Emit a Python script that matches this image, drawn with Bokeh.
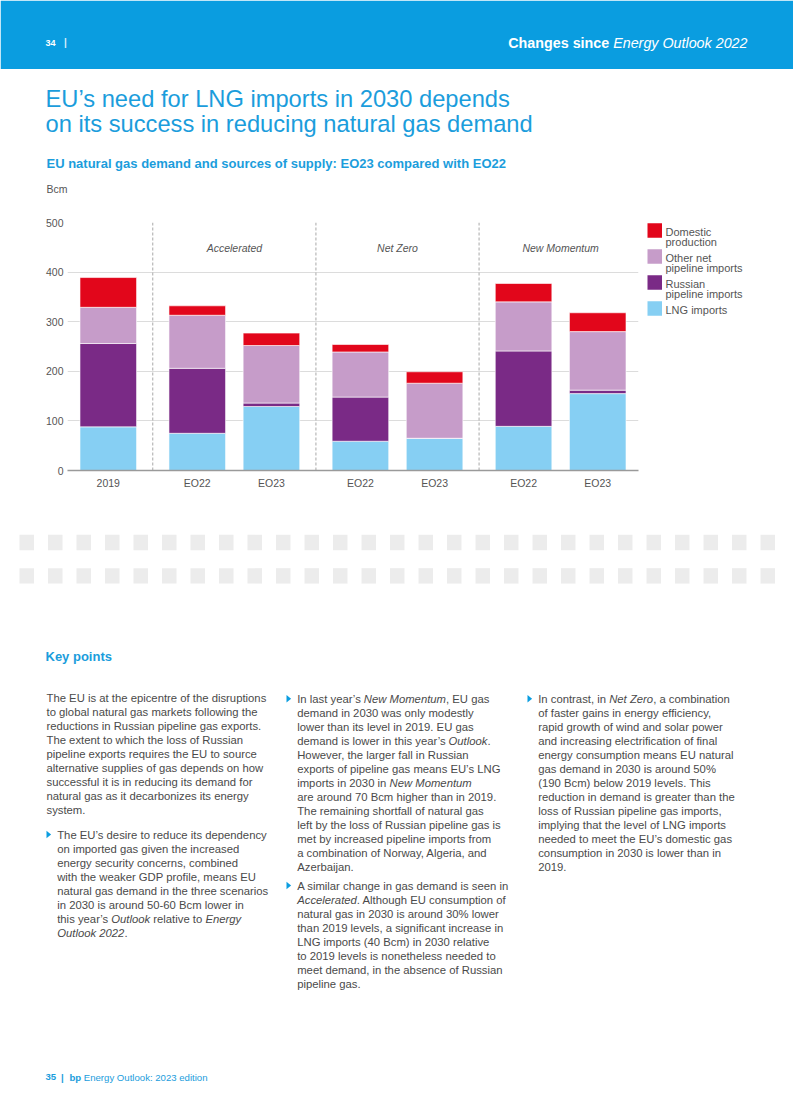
import math
from bokeh.plotting import figure
from bokeh.models import FactorRange, Range1d, FixedTicker, ColumnDataSource
from bokeh.layouts import column, row
from bokeh.core.properties import value
from bokeh.embed import file_html
from bokeh.resources import INLINE

# ---------------- data ----------------
scenarios = ["2019", "Accelerated", "Accelerated", "Net Zero", "Net Zero", "New Momentum", "New Momentum"]
cases = ["2019", "EO22", "EO23", "EO22", "EO23", "EO22", "EO23"]
lng_imports = [88, 75, 129, 59, 65, 89, 155]
russian_pipeline = [168, 131, 7, 89, 0, 152, 7]
other_pipeline = [73, 107, 116, 91, 111, 99, 118]
domestic_production = [60, 19, 25, 15, 23, 37, 38]
series_keys = ["lng", "russian", "other", "domestic"]
series_colors = ["#86cff3", "#7a2a86", "#c69cc9", "#e2061b"]
legend_labels = [["Domestic", "production"], ["Other net", "pipeline imports"],
                 ["Russian", "pipeline imports"], ["LNG imports"]]
legend_colors = ["#e2061b", "#c69cc9", "#7a2a86", "#86cff3"]
y_ticks = [0, 100, 200, 300, 400, 500]
scenario_names = ["Accelerated", "Net Zero", "New Momentum"]

title_lines = ["EU\u2019s need for LNG imports in 2030 depends",
               "on its success in reducing natural gas demand"]
subtitle = "EU natural gas demand and sources of supply: EO23 compared with EO22"
unit_label = "Bcm"

para1 = ["The EU is at the epicentre of the disruptions",
         "to global natural gas markets following the",
         "reductions in Russian pipeline gas exports.",
         "The extent to which the loss of Russian",
         "pipeline exports requires the EU to source",
         "alternative supplies of gas depends on how",
         "successful it is in reducing its demand for",
         "natural gas as it decarbonizes its energy",
         "system."]
bullet1 = ["The EU\u2019s desire to reduce its dependency",
           "on imported gas given the increased",
           "energy security concerns, combined",
           "with the weaker GDP profile, means EU",
           "natural gas demand in the three scenarios",
           "in 2030 is around 50-60 Bcm lower in",
           "this year\u2019s _Outlook_ relative to _Energy_",
           "_Outlook 2022_."]
bullet2 = ["In last year\u2019s _New Momentum_, EU gas",
           "demand in 2030 was only modestly",
           "lower than its level in 2019. EU gas",
           "demand is lower in this year\u2019s _Outlook_.",
           "However, the larger fall in Russian",
           "exports of pipeline gas means EU\u2019s LNG",
           "imports in 2030 in _New Momentum_",
           "are around 70 Bcm higher than in 2019.",
           "The remaining shortfall of natural gas",
           "left by the loss of Russian pipeline gas is",
           "met by increased pipeline imports from",
           "a combination of Norway, Algeria, and",
           "Azerbaijan."]
bullet3 = ["A similar change in gas demand is seen in",
           "_Accelerated_. Although EU consumption of",
           "natural gas in 2030 is around 30% lower",
           "than 2019 levels, a significant increase in",
           "LNG imports (40 Bcm) in 2030 relative",
           "to 2019 levels is nonetheless needed to",
           "meet demand, in the absence of Russian",
           "pipeline gas."]
bullet4 = ["In contrast, in _Net Zero_, a combination",
           "of faster gains in energy efficiency,",
           "rapid growth of wind and solar power",
           "and increasing electrification of final",
           "energy consumption means EU natural",
           "gas demand in 2030 is around 50%",
           "(190 Bcm) below 2019 levels. This",
           "reduction in demand is greater than the",
           "loss of Russian pipeline gas imports,",
           "implying that the level of LNG imports",
           "needed to meet the EU\u2019s domestic gas",
           "consumption in 2030 is lower than in",
           "2019."]

# ---------------- style ----------------
FONT = "Liberation Sans"
BLUE = "#0a9de0"
TITLE_BLUE = "#1b9ddc"
TEXT = "#4a4a4a"
AXIS_TEXT = "#555555"
BODY = 11.3

HELV = {' ': 278, '!': 278, '"': 355, '%': 889, '&': 667, "'": 191, '(': 333, ')': 333,
        ',': 278, '-': 333, '.': 278, '/': 278, ':': 278, ';': 278, '?': 556,
        '\u2019': 222, '\u2018': 222,
        'A': 667, 'B': 667, 'C': 722, 'D': 722, 'E': 667, 'F': 611, 'G': 778, 'H': 722,
        'I': 278, 'J': 500, 'K': 667, 'L': 556, 'M': 833, 'N': 722, 'O': 778, 'P': 667,
        'Q': 778, 'R': 722, 'S': 667, 'T': 611, 'U': 722, 'V': 667, 'W': 944, 'X': 667,
        'Y': 667, 'Z': 611,
        'a': 556, 'b': 556, 'c': 500, 'd': 556, 'e': 556, 'f': 278, 'g': 556, 'h': 556,
        'i': 222, 'j': 222, 'k': 500, 'l': 222, 'm': 833, 'n': 556, 'o': 556, 'p': 556,
        'q': 556, 'r': 333, 's': 500, 't': 278, 'u': 556, 'v': 500, 'w': 722, 'x': 500,
        'y': 500, 'z': 500}


def text_width(s, size):
    return sum(HELV.get(c, 556) for c in s) * size / 1000.0


def page_fig(w, h, x0, y0, bt=0, bb=0):
    # frame maps 1:1 onto page pixels; bt/bb are top/bottom borders in px
    p = figure(width=w, height=h, x_range=Range1d(x0, x0 + w),
               y_range=Range1d(y0 + h - bb, y0 + bt),
               x_axis_type=None, y_axis_type=None, toolbar_location=None,
               output_backend="svg", min_border=0, outline_line_color=None)
    p.min_border_top = bt
    p.min_border_bottom = bb
    return p


def add_text(p, xs, ys, texts, size, color, style="normal", align="left"):
    src = ColumnDataSource(dict(x=xs, y=ys, t=texts))
    p.text(x="x", y="y", text="t", source=src, text_font=value(FONT),
           text_font_size=f"{size}px", text_color=color, text_font_style=style,
           text_align=align, text_baseline="middle")


def add_lines(p, lines, x, y0, step, size, color):
    parts = {"normal": ([], [], []), "italic": ([], [], [])}
    for i, line in enumerate(lines):
        y = y0 + i * step
        cur = x
        for k, seg in enumerate(line.split("_")):
            body = seg.lstrip(" ")
            lead = text_width(seg[:len(seg) - len(body)], size)
            if body.strip():
                st = "italic" if k % 2 else "normal"
                parts[st][0].append(cur + lead)
                parts[st][1].append(y)
                parts[st][2].append(body)
            cur += text_width(seg, size)
    for st, (xs, ys, ts) in parts.items():
        if ts:
            add_text(p, xs, ys, ts, size, color, style=st)


# ---------------- top section (page y 0..205) ----------------
top = page_fig(793, 205, 0, 0)
top.quad(left=[0], right=[793], top=[0], bottom=[68.5], fill_color=BLUE, line_color=None)
add_text(top, [45], [42.3], ["34"], 9, "white", style="bold")
add_text(top, [63.5], [42.3], ["|"], 10, "#d6eefa", style="bold")
hdr_size = 14.3
hdr_right = 747
ital = "Energy Outlook 2022"
add_text(top, [hdr_right], [42], [ital], hdr_size, "white", style="italic", align="right")
add_text(top, [hdr_right - text_width(ital, hdr_size) - text_width(" ", hdr_size)], [42],
         ["Changes since"], hdr_size, "white", style="bold", align="right")
add_text(top, [45, 45], [98, 123], title_lines, 23.7, TITLE_BLUE)
add_text(top, [46], [163.3], [subtitle], 13, TITLE_BLUE, style="bold")
add_text(top, [46], [188.3], [unit_label], 10.5, AXIS_TEXT)

# ---------------- chart (page y 205..500) ----------------
GROUP_PAD = 0.2
BT, BB = 17, 30
factors = list(zip(scenarios, cases))
src = ColumnDataSource(dict(x=factors, lng=lng_imports, russian=russian_pipeline,
                            other=other_pipeline, domestic=domestic_production))
chart = figure(width=640, height=295,
               x_range=FactorRange(*factors, group_padding=GROUP_PAD, factor_padding=0.0,
                                   range_padding=0.05, range_padding_units="absolute"),
               y_range=Range1d(0, 500), toolbar_location=None, output_backend="svg",
               min_border_left=67, min_border_right=2, min_border_top=BT, min_border_bottom=BB,
               outline_line_color=None)
chart.vbar_stack(series_keys, x="x", width=0.763, source=src, fill_color=series_colors,
                 line_color="white", line_width=0.6)

sep_x = [(s, "EO22", -(0.5 + GROUP_PAD / 2)) for s in scenario_names]
chart.segment(x0=sep_x, y0=[0] * 3, x1=sep_x, y1=[500] * 3, line_color="#a8a8a8",
              line_width=1, line_dash="3 2")
chart.text(x=scenario_names, y=[448] * 3, text=scenario_names, text_font=value(FONT),
           text_font_size="10.5px", text_font_style="italic", text_color=AXIS_TEXT,
           text_align="center", text_baseline="middle")

chart.xgrid.visible = False
chart.ygrid.grid_line_color = "#dcdcdc"
chart.ygrid.grid_line_width = 1
chart.yaxis.ticker = FixedTicker(ticks=y_ticks)
chart.yaxis.axis_line_color = None
chart.axis.major_tick_line_color = None
chart.axis.minor_tick_line_color = None
chart.axis.major_tick_out = 0
chart.axis.major_tick_in = 0
chart.axis.minor_tick_out = 0
chart.yaxis.major_label_standoff = 4
chart.axis.major_label_text_font = FONT
chart.axis.major_label_text_font_size = "10.5px"
chart.axis.major_label_text_color = AXIS_TEXT
chart.xaxis.axis_line_color = "#9a9a9a"
chart.xaxis.axis_line_width = 1.3
chart.xaxis.major_label_standoff = 6
chart.xaxis.group_text_font_size = "1px"
chart.xaxis.group_text_color = None
chart.xaxis.separator_line_color = None

# ---------------- legend (page x 640..793, frame aligned with chart frame) ----------------
leg = page_fig(153, 295, 640, 205, bt=BT, bb=BB)
pitch = 26
sw_top = [222.7 + pitch * i for i in range(len(legend_labels))]
leg.quad(left=[647] * 4, right=[661.5] * 4, top=sw_top, bottom=[t + 14.6 for t in sw_top],
         fill_color=legend_colors, line_color=None)
lx, ly, lt = [], [], []
for i, lines in enumerate(legend_labels):
    c = sw_top[i] + 7.3
    for j, ln in enumerate(lines):
        lx.append(665)
        ly.append(c + 1.4 + 10 * j)
        lt.append(ln)
add_text(leg, lx, ly, lt, 11, AXIS_TEXT)

# ---------------- bottom section (page y 500..1114) ----------------
bot = page_fig(793, 614, 0, 500)
n_sq = 27
sq_left = [19 + 28.5 * i for i in range(n_sq)]
for row_top in (534.3, 567.7):
    bot.quad(left=sq_left, right=[l + 14.5 for l in sq_left], top=[row_top] * n_sq,
             bottom=[row_top + 15.4] * n_sq, fill_color="#ececec", line_color=None)

add_text(bot, [45], [656], ["Key points"], 13, TITLE_BLUE, style="bold")

add_lines(bot, para1, 46, 697.3, 14, BODY, TEXT)
bullets = [(bullet1, 46, 834), (bullet2, 286, 698.3), (bullet3, 286, 885), (bullet4, 527, 698.3)]
tri_xs, tri_ys = [], []
for lines, tx, ty in bullets:
    add_lines(bot, lines, tx + 10.7, ty, 14, BODY, TEXT)
    tri_xs.append([tx, tx + 4.6, tx])
    tri_ys.append([ty - 3.8, ty, ty + 3.8])
bot.patches(xs=tri_xs, ys=tri_ys, fill_color=BLUE, line_color=None)

add_text(bot, [45], [1076.7], ["35"], 9.6, TITLE_BLUE, style="bold")
add_text(bot, [60.5], [1076.7], ["|"], 9.6, TITLE_BLUE, style="bold")
add_text(bot, [69], [1076.7], ["bp"], 9.6, TITLE_BLUE, style="bold")
add_text(bot, [83.3], [1076.7], ["Energy Outlook: 2023 edition"], 9.6, TITLE_BLUE)

page = column(top, row(chart, leg), bot)
open("out.html", "w").write(file_html(page, INLINE))
